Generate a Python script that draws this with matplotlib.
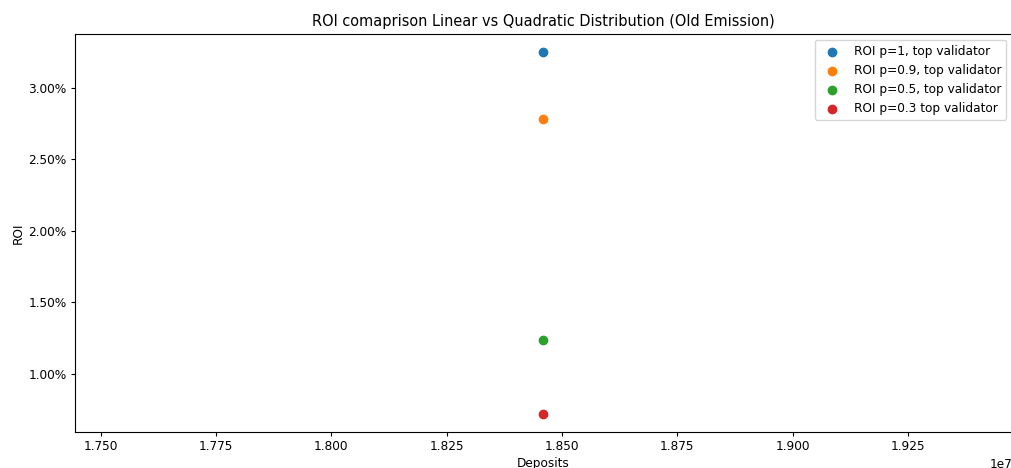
import matplotlib
matplotlib.use("Agg")
import matplotlib.pyplot as plt
from matplotlib.ticker import PercentFormatter

plt.rcParams["font.size"] = 8.7
plt.rcParams["xtick.major.size"] = 3.0
plt.rcParams["xtick.major.pad"] = 3.0
plt.rcParams["ytick.major.size"] = 3.0
plt.rcParams["ytick.major.pad"] = 3.0
plt.rcParams["axes.labelpad"] = 3.0

deposits = [18460000]
series_labels = ["ROI p=1, top validator", "ROI p=0.9, top validator",
                 "ROI p=0.5, top validator", "ROI p=0.3 top validator"]
roi_values = [0.0325, 0.0278, 0.0124, 0.0072]

fig = plt.figure(figsize=(10.11, 4.68), dpi=100)
W, H = 1011, 468
left, right, top, bottom = 75, 1012, 34, 432
ax = fig.add_axes([left / W, 1 - bottom / H, (right - left) / W, (bottom - top) / H])

for lab, v in zip(series_labels, roi_values):
    ax.scatter(deposits, [v], label=lab)

ax.yaxis.set_major_formatter(PercentFormatter(xmax=1, decimals=2))
ax.set_title("ROI comaprison Linear vs Quadratic Distribution (Old Emission)")
ax.set_xlabel("Deposits")
ax.set_ylabel("ROI")
ax.legend(loc="upper right")

fig.savefig("out.png", dpi=100)
